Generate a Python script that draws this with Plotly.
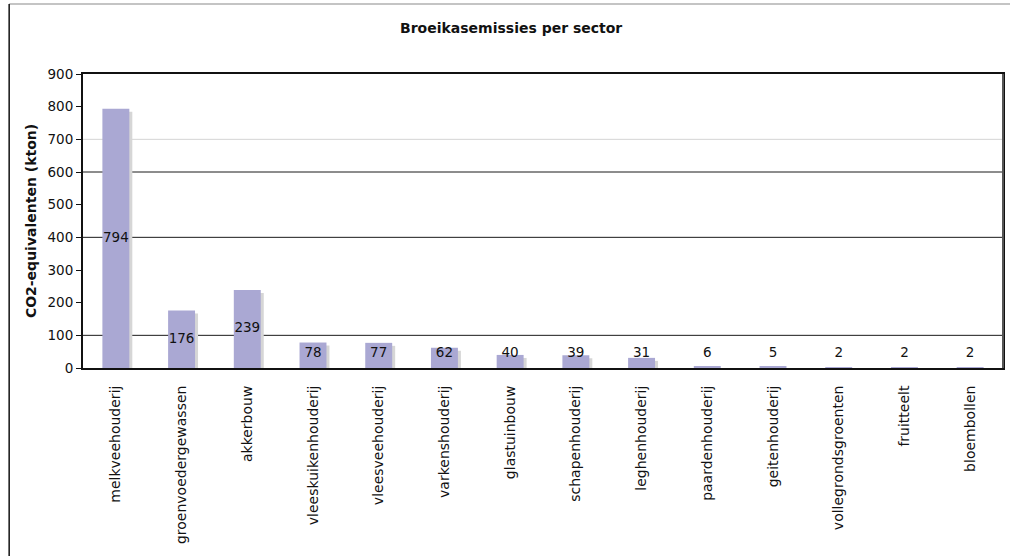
import numpy as np
import plotly.graph_objects as go

# Greenhouse gas emissions per agricultural sector (kton CO2-equivalents)
sectors = [
    "melkveehouderij", "groenvoedergewassen", "akkerbouw", "vleeskuikenhouderij",
    "vleesveehouderij", "varkenshouderij", "glastuinbouw", "schapenhouderij",
    "leghenhouderij", "paardenhouderij", "geitenhouderij", "vollegrondsgroenten",
    "fruitteelt", "bloembollen",
]
emissions = [794, 176, 239, 78, 77, 62, 40, 39, 31, 6, 5, 2, 2, 2]

y_ticks = [0, 100, 200, 300, 400, 500, 600, 700, 800, 900]
dark_grid = [100, 400, 600]
light_grid = [700]

BAR_COLOR = "#aaa8d3"
SHADOW_COLOR = "#d6d6d6"
FONT = "DejaVu Sans"

# plot-area geometry in pixels (used to express offsets)
W, H = 1012, 556
L, R, T, B = 83, 7, 74, 188
plot_w = W - L - R
plot_h = H - T - B
cat_w = plot_w / len(sectors)
px_y = 900 / plot_h  # data units per pixel

bar_w = 0.41
shadow_dx = 3 / cat_w
shadow_dy = 3 * px_y

vals = np.array(emissions, dtype=float)
label_y = np.maximum(vals / 2, 44)

fig = go.Figure()

# drop shadow behind each bar
fig.add_trace(go.Bar(
    x=sectors, y=vals, base=-shadow_dy,
    width=bar_w, offset=-bar_w / 2 + shadow_dx,
    marker=dict(color=SHADOW_COLOR, line=dict(width=0)),
    hoverinfo="skip", showlegend=False,
))
fig.add_trace(go.Bar(
    x=sectors, y=vals,
    width=bar_w, offset=-bar_w / 2,
    marker=dict(color=BAR_COLOR, line=dict(width=0)),
    showlegend=False,
))
fig.add_trace(go.Scatter(
    x=sectors, y=label_y, mode="text",
    text=[str(v) for v in emissions],
    textfont=dict(family=FONT, size=13.5, color="#111111"),
    hoverinfo="skip", showlegend=False,
))

shapes = []
for g in dark_grid:
    shapes.append(dict(type="line", xref="paper", yref="y", x0=0, x1=1, y0=g, y1=g,
                       line=dict(color="#1a1a1a", width=1), layer="below"))
for g in light_grid:
    shapes.append(dict(type="line", xref="paper", yref="y", x0=0, x1=1, y0=g, y1=g,
                       line=dict(color="#d4d4d4", width=1), layer="below"))

# grey right edge of the plot box
shapes.append(dict(type="line", xref="paper", yref="paper", x0=1, x1=1, y0=0, y1=1,
                   line=dict(color="#555555", width=2)))

# outer frame: grey top edge and black left edge
fx = (9 - L) / plot_w
fy_top = (H - B - 4) / plot_h
fy_bot = (H - B - H) / plot_h
shapes.append(dict(type="line", xref="paper", yref="paper", x0=fx, x1=(W - L) / plot_w,
                   y0=fy_top, y1=fy_top, line=dict(color="#c4c4c4", width=2)))
shapes.append(dict(type="line", xref="paper", yref="paper", x0=fx, x1=fx,
                   y0=fy_top, y1=fy_bot, line=dict(color="#111111", width=1.5)))

fig.update_layout(
    width=W, height=H,
    margin=dict(l=L, r=R, t=T, b=B),
    paper_bgcolor="white", plot_bgcolor="white",
    barmode="overlay",
    shapes=shapes,
    font=dict(family=FONT, size=13, color="#111111"),
    annotations=[dict(
        text="<b>Broeikasemissies per sector</b>",
        xref="paper", yref="paper",
        x=(512 - L) / plot_w, y=(H - B - 28) / plot_h,
        showarrow=False, xanchor="center", yanchor="middle",
        font=dict(family=FONT, size=14, color="#111111"),
    )],
)

fig.update_xaxes(
    type="category", range=[-0.5, len(sectors) - 0.5],
    tickangle=-90, tickfont=dict(family=FONT, size=14, color="#111111"),
    showline=True, linecolor="#111111", linewidth=2, mirror=True,
    showgrid=False, ticks="", ticklabelstandoff=10,
)
fig.update_yaxes(
    range=[0, 900], tickvals=y_ticks,
    tickfont=dict(family=FONT, size=13.5, color="#111111"),
    showline=True, linecolor="#111111", linewidth=2, mirror=True,
    showgrid=False, zeroline=False,
    ticks="outside", ticklen=5, tickcolor="#111111",
    title=dict(text="<b>CO2-equivalenten (kton)</b>",
               font=dict(family=FONT, size=14, color="#111111"), standoff=8),
)

fig.write_html("out.html")
